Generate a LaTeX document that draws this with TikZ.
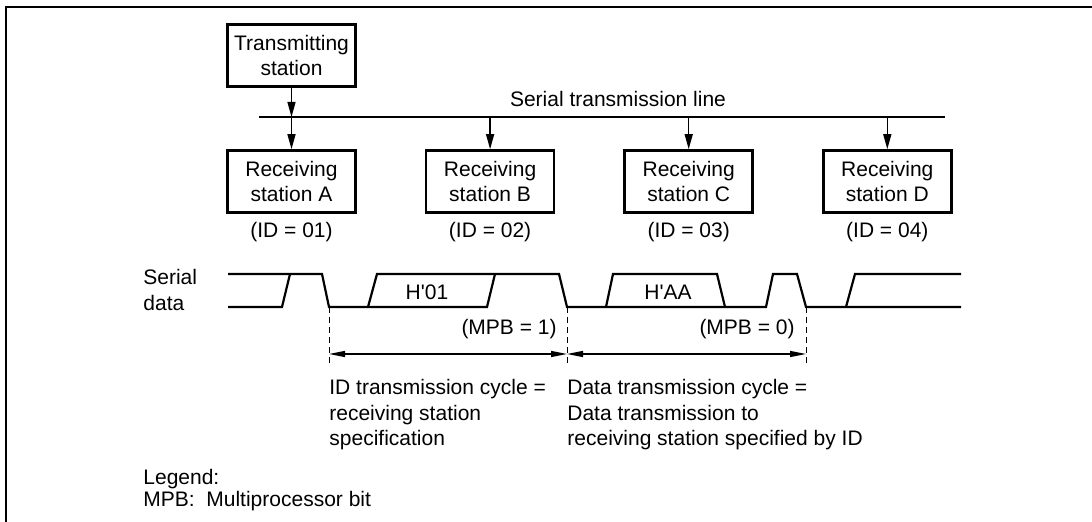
\documentclass[tikz,border=0pt]{standalone}
\usepackage{fontspec}
\setmainfont{Liberation Sans}
\usetikzlibrary{arrows.meta,positioning}
\newcommand{\figfont}{\fontsize{10.5}{12.75}\selectfont}

\begin{document}
\begin{tikzpicture}[x=0.5pt, y=-0.5pt,
  station/.style={draw, line width=1.3pt, minimum width=64pt, minimum height=31pt,
    align=center, inner sep=1pt, font=\figfont},
  lab/.style={font=\figfont, inner sep=0pt},
  arr/.style={-{Triangle[length=7.5pt,width=4pt]}, line width=0.7pt},
  wave/.style={line width=1.1pt, line join=miter},
  span/.style={{Triangle[length=8pt,width=3pt]}-{Triangle[length=8pt,width=3pt]}, line width=0.65pt},
  guide/.style={line width=0.5pt, dash pattern=on 3pt off 2pt},
]
\useasboundingbox (0,0) rectangle (1092,522);

% frame (top and left edges only)
\draw[line width=0.85pt] (1092,6.8) -- (6.2,6.8) -- (6.2,522);

% transmitting station and the bus
\node[station] (T) at (291.5,55.5) {Transmitting\\station};
\coordinate (busL) at (259,117);
\coordinate (busR) at (945,117);
\draw[line width=0.55pt] (busL) -- (busR);
\node[lab, anchor=base] (busLbl) at (618,107) {Serial transmission line};

% receiving stations
\node[station] (RA) at (291.5,181.5) {Receiving\\station A};
\node[station, right=34pt of RA] (RB) {Receiving\\station B};
\node[station, right=34pt of RB] (RC) {Receiving\\station C};
\node[station, right=34pt of RC] (RD) {Receiving\\station D};
\foreach \r/\id in {RA/01,RB/02,RC/03,RD/04}
  \node[lab, below=4pt of \r] (id\r) {(ID = \id)};

\draw[arr] (T) -- (T |- busL);
\draw[arr] (T |- busL) -- (RA);
\foreach \r in {RB,RC,RD}
  \draw[arr] (\r |- busL) -- (\r);

% serial data waveform
\node[lab, align=left, anchor=north west] (sd) at (143,269) {Serial\\data};
\draw[wave] (228,307) -- (282,307) -- (290,274);
\draw[wave] (228,274) -- (322,274) -- (329,307) -- (487,307) -- (495,274);
\draw[wave] (368,307) -- (377,274) -- (559,274) -- (567,307) -- (766,307)
  -- (773,274) -- (797,274) -- (806,307) -- (961,307);
\draw[wave] (606,307) -- (613,274) -- (717,274) -- (725,307);
\draw[wave] (846,307) -- (855,274) -- (961,274);
\node[lab] (d1) at (427,292) {H\textquotesingle 01};
\node[lab] (d2) at (668,292) {H\textquotesingle AA};
\node[lab, anchor=east] (mpb1) at (557,329) {(MPB = 1)};
\node[lab, anchor=east] (mpb0) at (795,329) {(MPB = 0)};

% cycle boundaries
\foreach \x [count=\i] in {329,567,806} {
  \coordinate (c\i) at (\x,307);
  \coordinate (m\i) at (\x,354);
  \coordinate (g\i) at (\x,366);
  \draw[guide] (c\i) -- (g\i);
}
\draw[span] (m1) -- (m2);
\draw[span] (m2) -- (m3);

\node[lab, align=left, anchor=north west] (idcyc) at (329,379)
  {ID transmission cycle =\\receiving station\\specification};
\node[lab, align=left, anchor=north west] (datacyc) at (567,379)
  {Data transmission cycle =\\Data transmission to\\receiving station specified by ID};

% legend
\node[lab, align=left, anchor=north west, font=\fontsize{10.5}{11}\selectfont] (leg) at (143,469)
  {Legend:\\MPB:\ \ Multiprocessor bit};

\end{tikzpicture}
\end{document}
